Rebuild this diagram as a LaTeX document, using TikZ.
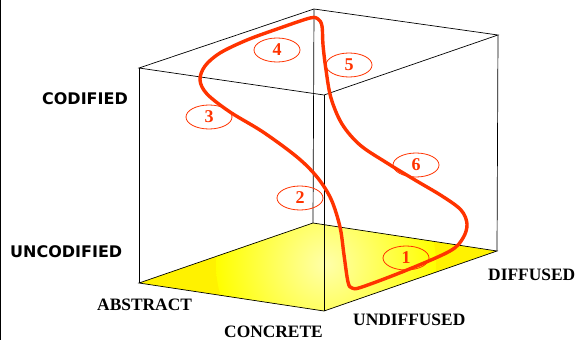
\documentclass[tikz,border=0pt]{standalone}
\usepackage{fontspec}
\setmainfont{Liberation Serif}
\newfontfamily\labelsans{DejaVu Sans}
\usepackage{xcolor}
\usetikzlibrary{positioning,shapes.geometric}
\definecolor{curvered}{RGB}{255,51,0}
\definecolor{floorlight}{RGB}{255,255,170}

\begin{document}
\begin{tikzpicture}[x=1pt,y=-1pt,
edge/.style={draw=black,line width=0.7pt},
axislabel/.style={inner sep=0pt,font=\fontsize{17.4}{20}\selectfont\bfseries},
codelabel/.style={inner sep=0pt,font=\labelsans\fontsize{16}{19}\selectfont\bfseries},
stage/.style={draw=curvered,line width=0.8pt,ellipse,minimum width=46pt,minimum height=24pt,inner sep=0pt,text=curvered,font=\fontsize{18}{20}\selectfont\bfseries},
cyclepath/.style={draw=curvered,line width=3.4pt,line join=round}
]
\useasboundingbox (0,0) rectangle (578,340);
% cube corners
\coordinate (tl) at (139,68);
\coordinate (tb) at (314,9);
\coordinate (tr) at (498,35);
\coordinate (tf) at (324,95);
\coordinate (bl) at (139,283);
\coordinate (bb) at (313,223);
\coordinate (br) at (497,251);
\coordinate (bf) at (324,311);
% frame line
\coordinate (ftop) at (0.6,0);
\coordinate (fbot) at (0.6,340);
\draw[line width=1pt] (ftop) -- (fbot);
% floor
\fill[yellow] (bl) -- (bb) -- (br) -- (bf) -- cycle;
\begin{scope}
\clip (bl) -- (bb) -- (br) -- (bf) -- cycle;
\shade[inner color=floorlight,outer color=yellow] (326,264) circle (110);
\end{scope}
% cube edges
\draw[edge] (bl) -- (bb) -- (br) -- (bf) -- cycle;
\draw[edge] (tl) -- (tb) -- (tr) -- (tf) -- cycle;
\draw[edge] (tl) -- (bl);
\draw[edge] (tb) -- (bb);
\draw[edge] (tr) -- (br);
\draw[edge] (tf) -- (bf);
% the cycle
\draw[cyclepath] plot[smooth cycle,tension=0.55] coordinates {
(348,282) (352,288) (362,287) (407,270) (450,251) (463,238) (467,224)
(461,210) (442,196) (415,180) (387,163) (360,145) (342,124) (331,98)
(326,70) (323,45) (322,26) (318,19) (310,18) (280,28) (247,40) (220,53)
(205,66) (200,80) (207,94) (230,112) (263,132) (297,157) (317,177)
(331,199) (340,227) (344,255)};
% stages
\node[stage] (s1) at (406,258) {1};
\node[stage] (s2) at (300,198) {2};
\node[stage] (s3) at (209,117) {3};
\node[stage] (s4) at (277,50) {4};
\node[stage] (s5) at (349,65) {5};
\node[stage] (s6) at (416,165) {6};
% axis labels
\node[codelabel,anchor=base east] (codified) at (128,104) {CODIFIED};
\node[codelabel,anchor=base west] (uncodified) at (10,257) {UNCODIFIED};
\node[axislabel,anchor=base west] (abstract) at (97,310) {ABSTRACT};
\node[axislabel,anchor=base east] (concrete) at (323,337) {CONCRETE};
\node[axislabel,anchor=base west] (undiffused) at (353,325) {UNDIFFUSED};
\node[axislabel,anchor=base west] (diffused) at (488,280) {DIFFUSED};
\end{tikzpicture}
\end{document}
